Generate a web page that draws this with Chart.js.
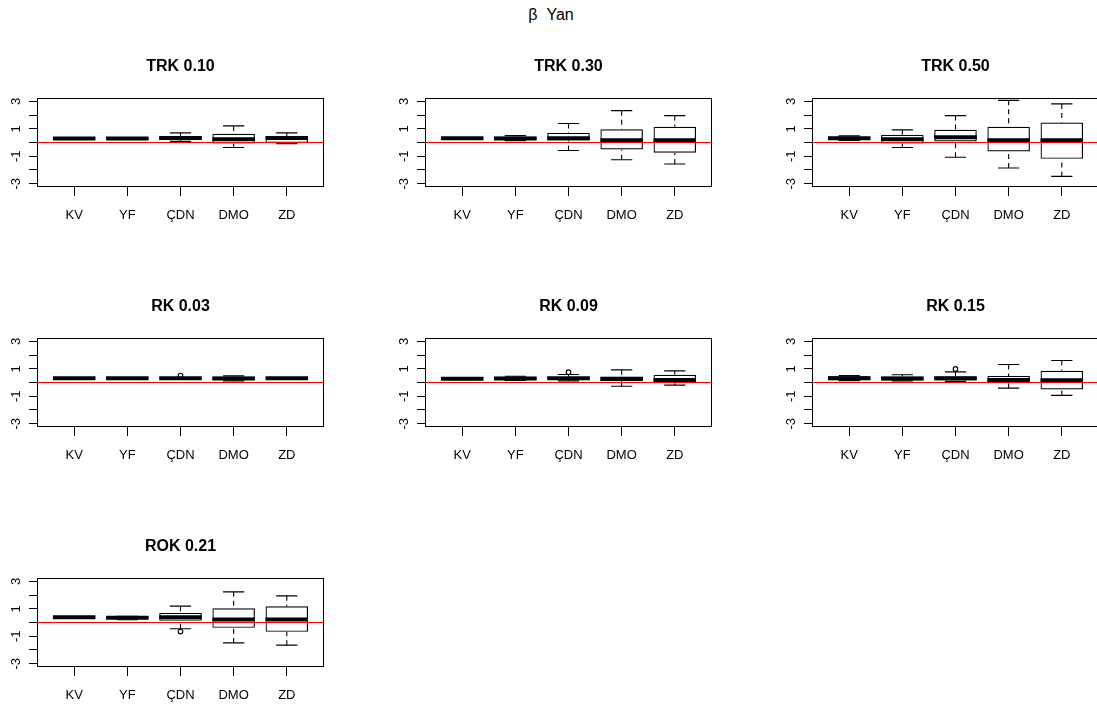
<!DOCTYPE html>
<html>
<head>
<meta charset="utf-8">
<script src="https://cdn.jsdelivr.net/npm/chart.js@4.4.1/dist/chart.umd.min.js"></script>
<style>
  html, body { margin: 0; padding: 0; background: #fff; width: 1097px; height: 706px; overflow: hidden; }
  #page { position: relative; width: 1097px; height: 706px; overflow: hidden; background: #fff; }
  #main { position: absolute; left: 0; top: 6px; width: 1102px; text-align: center;
          font: 16px "Liberation Sans", Arial, sans-serif; line-height: 18px; white-space: pre; color: #000; }
  canvas { position: absolute; }
</style>
</head>
<body>
<div id="page"><div id="main">β  Yan</div></div>
<script>
// Estimator names on the x axis
const categories = ['KV', 'YF', 'ÇDN', 'DMO', 'ZD'];

// One panel per contamination scenario
const panelTitles = ['TRK 0.10', 'TRK 0.30', 'TRK 0.50', 'RK 0.03', 'RK 0.09', 'RK 0.15', 'ROK 0.21'];

// Box-plot statistics: one row per panel, one entry per estimator
const lowerWhisker = [
  [0.24, 0.24, 0.08, -0.36, -0.08],
  [0.26, 0.14, -0.58, -1.26, -1.57],
  [0.15, -0.36, -1.07, -1.86, -2.47],
  [0.26, 0.26, 0.26, 0.12, 0.26],
  [0.20, 0.15, 0.12, -0.27, -0.19],
  [0.14, 0.12, 0.08, -0.41, -0.94],
  [0.32, 0.20, -0.46, -1.48, -1.65]
];
const lowerQuartile = [
  [0.27, 0.27, 0.22, -0.07, -0.03],
  [0.29, 0.18, 0.15, -0.51, -0.75],
  [0.22, -0.07, 0.07, -0.65, -1.19],
  [0.29, 0.29, 0.29, 0.19, 0.29],
  [0.23, 0.18, 0.20, 0.10, -0.05],
  [0.17, 0.15, 0.15, -0.05, -0.51],
  [0.35, 0.27, 0.12, -0.39, -0.68]
];
const medians = [
  [0.29, 0.29, 0.33, 0.24, 0.33],
  [0.31, 0.30, 0.31, 0.17, 0.17],
  [0.31, 0.24, 0.39, 0.17, 0.17],
  [0.31, 0.31, 0.31, 0.30, 0.31],
  [0.27, 0.30, 0.31, 0.27, 0.19],
  [0.31, 0.30, 0.31, 0.19, 0.17],
  [0.38, 0.34, 0.39, 0.22, 0.22]
];
const upperQuartile = [
  [0.31, 0.31, 0.45, 0.63, 0.47],
  [0.33, 0.44, 0.70, 0.97, 1.14],
  [0.42, 0.56, 0.92, 1.14, 1.45],
  [0.33, 0.33, 0.33, 0.44, 0.33],
  [0.33, 0.42, 0.40, 0.42, 0.56],
  [0.46, 0.44, 0.44, 0.48, 0.85],
  [0.41, 0.41, 0.70, 1.04, 1.18]
];
const upperWhisker = [
  [0.34, 0.34, 0.70, 1.21, 0.70],
  [0.36, 0.50, 1.38, 2.32, 1.96],
  [0.48, 0.92, 1.96, 3.07, 2.81],
  [0.36, 0.36, 0.36, 0.48, 0.36],
  [0.36, 0.45, 0.58, 0.92, 0.85],
  [0.50, 0.56, 0.77, 1.31, 1.60],
  [0.44, 0.45, 1.19, 2.23, 1.94]
];
// Outlying points: [estimator index, value]
const outliers = [
  [],
  [],
  [],
  [[2, 0.51]],
  [[2, 0.75]],
  [[2, 0.99]],
  [[2, -0.66]]
];

// y axis: ticks at every integer, labels on the odd ones
const yTicks = [-3, -2, -1, 0, 1, 2, 3];
const yTickLabels = ['-3', '', '-1', '', '1', '', '3'];
const referenceValue = 0;

Chart.defaults.font.family = '"Liberation Sans", Arial, sans-serif';
Chart.defaults.color = '#000';

// Whiskers, staples, medians, the reference line and the frame
const boxplotParts = {
  id: 'boxplotParts',
  afterDatasetsDraw(chart, args, opts) {
    const p = opts.panel;
    const { ctx, chartArea: a, scales: { x, y } } = chart;
    const bars = chart.getDatasetMeta(0).data;
    ctx.save();
    ctx.strokeStyle = '#000';
    bars.forEach((bar, i) => {
      const cx = bar.x;
      const w = bar.width;
      const yLW = y.getPixelForValue(lowerWhisker[p][i]);
      const yQ1 = y.getPixelForValue(lowerQuartile[p][i]);
      const yMed = y.getPixelForValue(medians[p][i]);
      const yQ3 = y.getPixelForValue(upperQuartile[p][i]);
      const yUW = y.getPixelForValue(upperWhisker[p][i]);
      // dashed whiskers, drawn from the staple towards the box
      ctx.lineWidth = 1.1;
      ctx.setLineDash([5, 4]);
      ctx.beginPath();
      ctx.moveTo(cx, yLW); ctx.lineTo(cx, yQ1);
      ctx.moveTo(cx, yUW); ctx.lineTo(cx, yQ3);
      ctx.stroke();
      // staples
      ctx.setLineDash([]);
      ctx.beginPath();
      ctx.moveTo(cx - w / 4, yLW); ctx.lineTo(cx + w / 4, yLW);
      ctx.moveTo(cx - w / 4, yUW); ctx.lineTo(cx + w / 4, yUW);
      ctx.stroke();
      // median
      ctx.lineWidth = 4;
      ctx.lineCap = 'butt';
      ctx.beginPath();
      ctx.moveTo(cx - w / 2, yMed); ctx.lineTo(cx + w / 2, yMed);
      ctx.stroke();
    });
    // reference line
    const y0 = y.getPixelForValue(referenceValue);
    ctx.strokeStyle = '#ff0000';
    ctx.lineWidth = 1;
    ctx.beginPath();
    ctx.moveTo(a.left, y0); ctx.lineTo(a.right, y0);
    ctx.stroke();
    // plot frame
    ctx.strokeStyle = '#000';
    ctx.lineWidth = 1;
    ctx.strokeRect(Math.round(a.left) + 0.5, Math.round(a.top) + 0.5,
                   Math.round(a.right - a.left) - 1, Math.round(a.bottom - a.top) - 1);
    ctx.restore();
  }
};

const colLeft = [0, 388, 775];
const page = document.getElementById('page');

panelTitles.forEach((title, p) => {
  const canvas = document.createElement('canvas');
  canvas.width = 387;
  canvas.height = 240;
  canvas.style.left = colLeft[p % 3] + 'px';
  canvas.style.top = (40 + 240 * Math.floor(p / 3)) + 'px';
  page.appendChild(canvas);

  const boxData = categories.map((c, i) => ({ x: i + 1, y: [lowerQuartile[p][i], upperQuartile[p][i]] }));
  const outData = outliers[p].map(([i, v]) => ({ x: i + 1, y: v }));

  new Chart(canvas, {
    type: 'bar',
    data: {
      datasets: [
        {
          type: 'bar',
          data: boxData,
          backgroundColor: 'rgba(255,255,255,0)',
          borderColor: '#000',
          borderWidth: 1.2,
          borderSkipped: false,
          inflateAmount: 0,
          categoryPercentage: 0.8,
          barPercentage: 1,
          order: 2
        },
        {
          type: 'scatter',
          data: outData,
          pointStyle: 'circle',
          pointRadius: 2.3,
          borderWidth: 1.1,
          borderColor: '#000',
          backgroundColor: 'rgba(255,255,255,0)',
          order: 1
        }
      ]
    },
    options: {
      responsive: false,
      animation: false,
      devicePixelRatio: 1,
      events: [],
      layout: { padding: { left: 0, right: 63, top: 0, bottom: 53 } },
      plugins: {
        legend: { display: false },
        tooltip: { enabled: false },
        title: {
          display: true,
          text: title,
          fullSize: false,
          color: '#000',
          font: { size: 16, weight: 'bold' },
          padding: { top: 17, bottom: 21.8 }
        },
        boxplotParts: { panel: p }
      },
      scales: {
        x: {
          type: 'linear',
          min: 0.3,
          max: 5.7,
          offset: false,
          afterBuildTicks: s => { s.ticks = categories.map((c, i) => ({ value: i + 1 })); },
          afterFit: s => { s.height = 40; },
          grid: { display: true, drawOnChartArea: false, drawTicks: true, tickLength: 9, color: '#000', lineWidth: 1, offset: false },
          border: { display: false },
          ticks: {
            autoSkip: false, maxRotation: 0, minRotation: 0, padding: 12,
            font: { size: 13 }, color: '#000',
            callback: v => categories[Math.round(v) - 1] ?? ''
          }
        },
        y: {
          type: 'linear',
          min: -3.24,
          max: 3.24,
          afterBuildTicks: s => { s.ticks = yTicks.map(v => ({ value: v })); },
          afterFit: s => { s.width = 37; },
          grid: { display: true, drawOnChartArea: false, drawTicks: true, tickLength: 8, color: '#000', lineWidth: 1 },
          border: { display: false },
          ticks: {
            autoSkip: false, minRotation: 90, maxRotation: 90, crossAlign: 'center', padding: 7,
            font: { size: 13 }, color: '#000',
            callback: v => yTickLabels[yTicks.indexOf(Math.round(v))] ?? ''
          }
        }
      }
    },
    plugins: [boxplotParts]
  });
});
</script>
</body>
</html>
